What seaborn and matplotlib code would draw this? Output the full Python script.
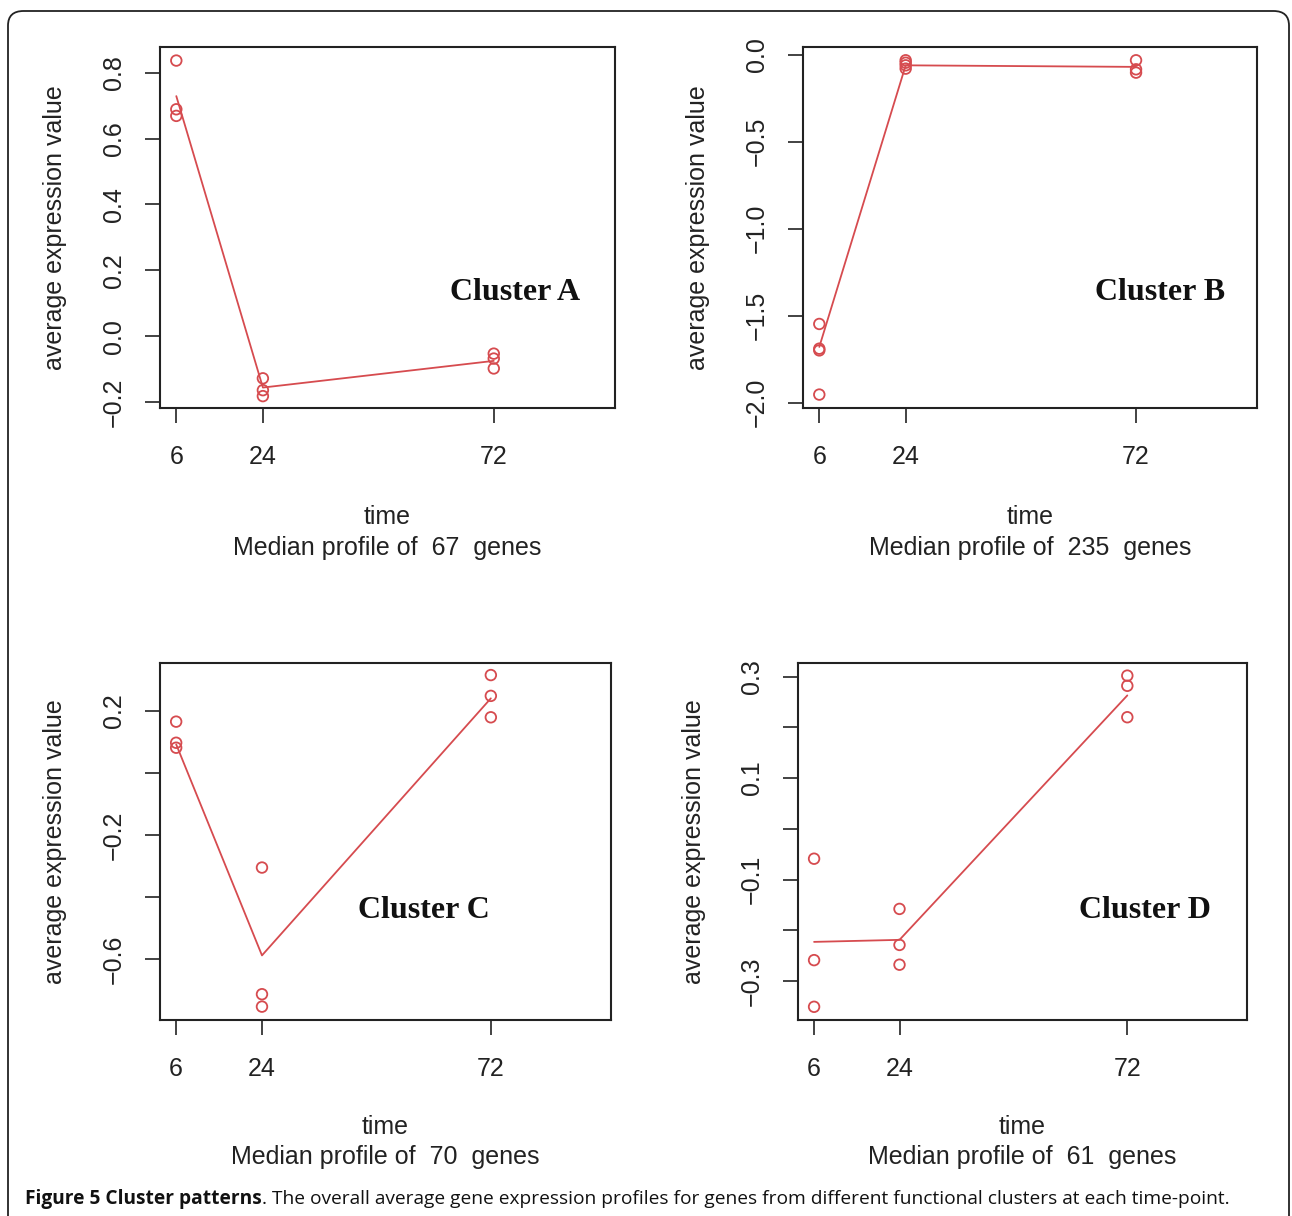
import matplotlib
matplotlib.use("Agg")
import matplotlib.pyplot as plt
from matplotlib.patches import FancyBboxPatch
import seaborn as sns

# values
time_a = [6, 6, 6, 24, 24, 24, 72, 72, 72]
expr_a = [0.837, 0.689, 0.669, -0.128, -0.164, -0.182, -0.053, -0.068, -0.098]
median_a = [0.729, -0.156, -0.075]

time_b = [6, 6, 6, 6, 24, 24, 24, 24, 72, 72, 72]
expr_b = [-1.548, -1.690, -1.700, -1.954, -0.032, -0.046, -0.061, -0.080, -0.032, -0.084, -0.103]
median_b = [-1.68, -0.061, -0.070]

time_c = [6, 6, 6, 24, 24, 24, 72, 72, 72]
expr_c = [0.166, 0.098, 0.082, -0.304, -0.712, -0.752, 0.316, 0.249, 0.180]
median_c = [0.093, -0.587, 0.241]

time_d = [6, 6, 6, 24, 24, 24, 72, 72, 72]
expr_d = [-0.059, -0.259, -0.351, -0.158, -0.229, -0.268, 0.302, 0.282, 0.220]
median_d = [-0.223, -0.219, 0.263]

time_points = [6, 24, 72]
cluster_names = ["Cluster A", "Cluster B", "Cluster C", "Cluster D"]
gene_counts = [67, 235, 70, 61]

yticks_a = [-0.2, 0.0, 0.2, 0.4, 0.6, 0.8]
ylabels_a = ["\u22120.2", "0.0", "0.2", "0.4", "0.6", "0.8"]
yticks_b = [-2.0, -1.5, -1.0, -0.5, 0.0]
ylabels_b = ["\u22122.0", "\u22121.5", "\u22121.0", "\u22120.5", "0.0"]
yticks_c = [-0.6, -0.4, -0.2, 0.0, 0.2]
ylabels_c = ["\u22120.6", "", "\u22120.2", "", "0.2"]
yticks_d = [-0.3, -0.2, -0.1, 0.0, 0.1, 0.2, 0.3]
ylabels_d = ["\u22120.3", "", "\u22120.1", "", "0.1", "", "0.3"]

RED = "#d64b4f"
W, H = 1292, 1216


def draw_panel(fig, rect, t, v, med, yticks, ylabels, ylim, name, n_genes, label_pos, sub_y):
    ax = fig.add_axes(rect)
    sns.scatterplot(x=t, y=v, ax=ax, marker="o", s=58, facecolor="none",
                    edgecolor=RED, linewidth=1.3, legend=False, zorder=3)
    sns.lineplot(x=time_points, y=med, ax=ax, color=RED, linewidth=1.3,
                 legend=False, zorder=2)
    ax.set_xlim(2.6, 97.2)
    ax.set_ylim(*ylim)
    ax.set_xticks(time_points)
    ax.set_xticklabels([str(x) for x in time_points])
    ax.set_yticks(yticks)
    ax.set_yticklabels(ylabels, rotation=90, va="center")
    for sp in ax.spines.values():
        sp.set_visible(True)
        sp.set_color("#222222")
        sp.set_linewidth(1.5)
    ax.tick_params(axis="both", direction="out", length=10.5, width=1.2,
                   color="#222222", labelsize=18, labelcolor="#222222",
                   bottom=True, left=True, top=False, right=False)
    ax.tick_params(axis="x", pad=16)
    ax.tick_params(axis="y", pad=14)
    ax.set_xlabel("")
    ax.set_ylabel("average expression value", fontsize=18, color="#222222")
    ax.yaxis.set_label_coords(-0.205, 0.5)
    ax.text(label_pos[0], label_pos[1], name, transform=ax.transAxes,
            ha="center", va="center", fontsize=23, fontweight="bold",
            family=["Liberation Serif", "DejaVu Serif"], color="#111111")
    ax.text(0.5, sub_y[0], "time", transform=ax.transAxes, ha="center",
            va="center", fontsize=18, color="#222222")
    ax.text(0.5, sub_y[1], f"Median profile of  {n_genes}  genes", transform=ax.transAxes,
            ha="center", va="center", fontsize=18, color="#222222")
    return ax


def main():
    sns.set_theme()
    sns.set_style("white")
    plt.rcParams["font.family"] = ["Liberation Sans", "DejaVu Sans"]
    plt.rcParams["axes.unicode_minus"] = True

    fig = plt.figure(figsize=(W / 100, H / 100), dpi=100)
    fig.patch.set_facecolor("white")

    frame = FancyBboxPatch((8 / W, -0.05), 1281 / W, 1.05 - 11 / H + 0.0,
                           boxstyle="round,pad=0,rounding_size=0.012",
                           transform=fig.transFigure, facecolor="none",
                           edgecolor="#222222", linewidth=1.3)
    fig.patches.append(frame)

    draw_panel(fig, [0.1238, 0.6645, 0.3522, 0.2968], time_a, expr_a, median_a,
               yticks_a, ylabels_a, (-0.218, 0.878), cluster_names[0], gene_counts[0],
               (0.78, 0.321), (-0.302, -0.388))
    draw_panel(fig, [0.6215, 0.6645, 0.3514, 0.2968], time_b, expr_b, median_b,
               yticks_b, ylabels_b, (-2.031, 0.044), cluster_names[1], gene_counts[1],
               (0.786, 0.321), (-0.302, -0.388))
    draw_panel(fig, [0.1238, 0.1612, 0.3491, 0.2936], time_c, expr_c, median_c,
               yticks_c, ylabels_c, (-0.795, 0.355), cluster_names[2], gene_counts[2],
               (0.585, 0.308), (-0.30, -0.384))
    draw_panel(fig, [0.6176, 0.1612, 0.3475, 0.2936], time_d, expr_d, median_d,
               yticks_d, ylabels_d, (-0.377, 0.327), cluster_names[3], gene_counts[3],
               (0.773, 0.308), (-0.30, -0.384))

    # caption: bold lead followed by plain text, fitted to the original width
    cap_family = ["Liberation Sans Narrow", "Open Sans", "DejaVu Sans"]
    cap_y = (H - 1199) / H
    t1 = fig.text(25 / W, cap_y, "Figure 5 Cluster patterns", fontsize=14,
                  fontweight="bold", family=cap_family, va="center", ha="left", color="#111111")
    t2 = fig.text(0.3, cap_y, ". The overall average gene expression profiles for genes from "
                  "different functional clusters at each time-point.", fontsize=14,
                  family=cap_family, va="center", ha="left", color="#111111")
    fig.canvas.draw()
    r = fig.canvas.get_renderer()
    total = t1.get_window_extent(r).width + t2.get_window_extent(r).width
    scale = 1210 / total
    t1.set_fontsize(14 * scale)
    t2.set_fontsize(14 * scale)
    fig.canvas.draw()
    b1 = t1.get_window_extent(r)
    t2.set_x(b1.x1 / W)

    fig.savefig("out.png", dpi=100, facecolor="white")


if __name__ == "__main__":
    main()
